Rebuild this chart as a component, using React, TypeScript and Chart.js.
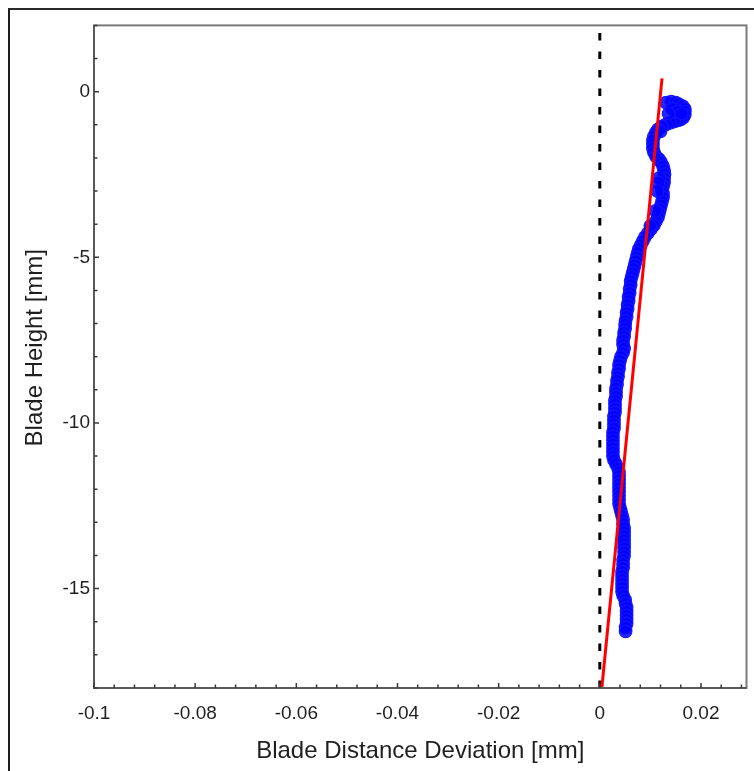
import { useEffect, useRef } from "react";
import { Chart, registerables } from "chart.js";

Chart.register(...registerables);

// ---- axes ----
const xTickValues = [-0.1, -0.08, -0.06, -0.04, -0.02, 0, 0.02];
const yTickValues = [0, -5, -10, -15];
const xMin = -0.1;
const xMax = 0.029;
const yMin = -18;
const yMax = 2;
const xMinorStep = 0.004;
const yMinorStep = 1;

const xTitle = "Blade Distance Deviation [mm]";
const yTitle = "Blade Height [mm]";

// ---- measured profile: deviation in micrometres, height in mm ----
const measuredDeviationUm = [
  13.1, 14.1, 15.0, 15.6, 16.4, 16.8, 16.8, 16.8, 16.5, 16.0,
  15.4, 14.7, 13.9, 13.1, 12.3, 11.5, 11.1, 10.7, 10.5, 10.5,
  10.5, 10.7, 11.1, 11.7, 12.1, 12.5, 12.7, 12.8, 12.7, 12.7,
  12.5, 12.3, 12.5, 12.5, 12.3, 12.1, 11.9, 11.7, 11.5, 11.1,
  10.7, 10.1, 9.5, 8.9, 8.5, 8.1, 7.7, 7.5, 7.3, 7.1,
  6.9, 6.7, 6.5, 6.3, 6.1, 6.1, 5.9, 5.9, 5.7, 5.7,
  5.5, 5.5, 5.3, 5.3, 5.1, 5.0, 5.0, 4.8, 4.8, 4.6,
  4.6, 4.8, 4.6, 4.2, 4.0, 3.8, 3.8, 3.6, 3.6, 3.4,
  3.4, 3.2, 3.2, 3.2, 3.0, 3.0, 3.0, 3.0, 2.8, 2.8,
  2.8, 2.8, 2.6, 2.6, 2.6, 2.6, 2.6, 2.6, 2.6, 2.8,
  3.2, 3.6, 3.8, 3.8, 3.8, 3.8, 3.8, 3.8, 3.8, 3.8,
  3.8, 4.0, 4.2, 4.4, 4.6, 4.6, 4.8, 4.8, 4.8, 4.8,
  4.8, 4.8, 4.8, 4.8, 4.6, 4.6, 4.6, 4.4, 4.4, 4.4,
  4.4, 4.4, 4.4, 4.6, 5.0, 5.1, 5.3, 5.3, 5.3, 5.3,
  5.3, 5.1, 5.1,
  // second strand inside the top hook and the wide section below it
  14.3, 15.4, 16.2, 13.6, 12.0, 11.8, 11.6, 11.4, 11.0, 10.0,
];
const measuredHeightMm = [
  -0.33, -0.30, -0.33, -0.38, -0.44, -0.52, -0.60, -0.70, -0.78, -0.84,
  -0.87, -0.90, -0.94, -0.99, -1.05, -1.14, -1.23, -1.35, -1.47, -1.59,
  -1.71, -1.83, -1.95, -2.04, -2.13, -2.25, -2.37, -2.49, -2.61, -2.74,
  -2.86, -2.95, -3.07, -3.19, -3.31, -3.43, -3.55, -3.67, -3.79, -3.91,
  -4.03, -4.15, -4.27, -4.39, -4.51, -4.63, -4.75, -4.87, -4.99, -5.11,
  -5.23, -5.35, -5.47, -5.59, -5.71, -5.83, -5.95, -6.07, -6.19, -6.31,
  -6.43, -6.55, -6.67, -6.79, -6.91, -7.03, -7.15, -7.27, -7.39, -7.51,
  -7.63, -7.75, -7.88, -8.00, -8.12, -8.24, -8.36, -8.48, -8.60, -8.72,
  -8.84, -8.96, -9.08, -9.20, -9.32, -9.44, -9.56, -9.68, -9.80, -9.92,
  -10.04, -10.16, -10.28, -10.40, -10.52, -10.64, -10.76, -10.88, -11.00, -11.12,
  -11.24, -11.36, -11.48, -11.60, -11.72, -11.84, -11.96, -12.08, -12.20, -12.32,
  -12.44, -12.56, -12.68, -12.80, -12.92, -13.04, -13.17, -13.29, -13.41, -13.53,
  -13.65, -13.77, -13.89, -14.01, -14.13, -14.25, -14.37, -14.49, -14.61, -14.73,
  -14.85, -14.97, -15.09, -15.21, -15.33, -15.45, -15.57, -15.69, -15.81, -15.93,
  -16.05, -16.17, -16.29,
  -0.52, -0.60, -0.66, -0.66, -1.20, -2.60, -2.75, -3.00, -3.60, -4.05,
];

// ---- fitted line (red) ----
const fitDeviationMm = [0.0004, 0.0123];
const fitHeightMm = [-18, 0.4];

// ---- zero reference (dashed) ----
const zeroDeviationMm = [0, 0];
const zeroHeightMm = [-18, 2];

const FONT = "'Liberation Sans', Arial, sans-serif";
const TEXT = "#1f1f1f";

const framePlugin = {
  id: "frame",
  afterDatasetsDraw(chart: any) {
    const { ctx, chartArea: a, scales } = chart;
    const xs = scales.x;
    const ys = scales.y;
    ctx.save();
    ctx.strokeStyle = "#7a7a7a";
    ctx.lineWidth = 2;
    ctx.strokeRect(a.left, a.top, a.right - a.left, a.bottom - a.top);
    ctx.strokeStyle = "#5a5a5a";
    ctx.beginPath();
    ctx.moveTo(a.left, a.top);
    ctx.lineTo(a.left, a.bottom);
    ctx.lineTo(a.right, a.bottom);
    ctx.stroke();
    ctx.strokeStyle = "#3a3a3a";
    ctx.lineWidth = 1.5;
    ctx.beginPath();
    const nx = Math.floor((xMax - xMin) / xMinorStep + 1e-6);
    for (let i = 0; i <= nx; i++) {
      const v = xMin + i * xMinorStep;
      const major = xTickValues.some((t) => Math.abs(t - v) < 1e-9);
      const px = xs.getPixelForValue(v);
      ctx.moveTo(px, a.bottom);
      ctx.lineTo(px, a.bottom - (major ? 5 : 3.5));
    }
    const ny = Math.floor((yMax - yMin) / yMinorStep + 1e-6);
    for (let i = 0; i <= ny; i++) {
      const v = yMin + i * yMinorStep;
      const major = yTickValues.some((t) => Math.abs(t - v) < 1e-9);
      const py = ys.getPixelForValue(v);
      ctx.moveTo(a.left, py);
      ctx.lineTo(a.left + (major ? 5 : 3.5), py);
    }
    ctx.stroke();
    // y-axis title
    ctx.fillStyle = TEXT;
    ctx.font = `24px ${FONT}`;
    ctx.textAlign = "center";
    ctx.textBaseline = "middle";
    ctx.translate(25, (a.top + a.bottom) / 2 - 9);
    ctx.rotate(-Math.PI / 2);
    ctx.fillText(yTitle, 0, 0);
    ctx.restore();
  },
};

function fmt(v: number) {
  const r = Math.round(v * 1000) / 1000;
  return r === 0 ? "0" : String(r);
}

export default function App() {
  const ref = useRef<HTMLCanvasElement | null>(null);

  useEffect(() => {
    if (!ref.current) return;
    const measured = measuredDeviationUm.map((d, i) => ({ x: d / 1000, y: measuredHeightMm[i] }));
    const fit = fitDeviationMm.map((d, i) => ({ x: d, y: fitHeightMm[i] }));
    const zero = zeroDeviationMm.map((d, i) => ({ x: d, y: zeroHeightMm[i] }));

    const chart = new Chart(ref.current, {
      type: "scatter",
      data: {
        datasets: [
          {
            label: "fit",
            data: fit,
            showLine: true,
            borderColor: "#ff0000",
            borderWidth: 3,
            pointRadius: 0,
          },
          {
            label: "zero",
            data: zero,
            showLine: true,
            borderColor: "#000000",
            borderWidth: 3,
            borderDash: [7.5, 11],
            pointRadius: 0,
          },
          {
            label: "measured",
            data: measured,
            showLine: false,
            pointRadius: 6.3,
            pointBorderWidth: 1.2,
            pointBorderColor: "rgba(20,20,255,0.95)",
            pointBackgroundColor: "rgba(0,0,255,0.85)",
          },
        ],
      },
      options: {
        responsive: false,
        animation: false,
        events: [],
        layout: { padding: { left: 0, top: 14, right: 7, bottom: 0 } },
        plugins: { legend: { display: false }, tooltip: { enabled: false } },
        scales: {
          x: {
            type: "linear",
            min: xMin,
            max: xMax,
            grid: { display: false, drawTicks: false },
            border: { display: false },
            afterBuildTicks: (s: any) => {
              s.ticks = xTickValues.map((v) => ({ value: v }));
            },
            afterFit: (s: any) => {
              s.height = 83;
            },
            ticks: {
              autoSkip: false,
              maxRotation: 0,
              padding: 14,
              color: TEXT,
              font: { family: FONT, size: 19 },
              callback: (v: any) => fmt(Number(v)),
            },
            title: {
              display: true,
              text: xTitle,
              color: TEXT,
              font: { family: FONT, size: 24, lineHeight: 1.2 },
              padding: { top: 0, bottom: 5 },
            },
          },
          y: {
            type: "linear",
            min: yMin,
            max: yMax,
            grid: { display: false, drawTicks: false },
            border: { display: false },
            afterBuildTicks: (s: any) => {
              s.ticks = yTickValues.map((v) => ({ value: v }));
            },
            afterFit: (s: any) => {
              s.width = 84;
            },
            ticks: {
              autoSkip: false,
              padding: 4,
              color: TEXT,
              font: { family: FONT, size: 19 },
              callback: (v: any) => fmt(Number(v)),
            },
            title: { display: false },
          },
        },
      },
      plugins: [framePlugin],
    } as any);
    return () => chart.destroy();
  }, []);

  return (
    <div
      style={{
        position: "fixed",
        left: 8,
        top: 8,
        width: 746,
        height: 763,
        borderLeft: "2px solid #1e1e1e",
        borderTop: "2px solid #2a2a2a",
        boxSizing: "border-box",
        background: "#fff",
        overflow: "hidden",
      }}
    >
      <canvas ref={ref} width={744} height={761} style={{ display: "block" }} />
    </div>
  );
}
